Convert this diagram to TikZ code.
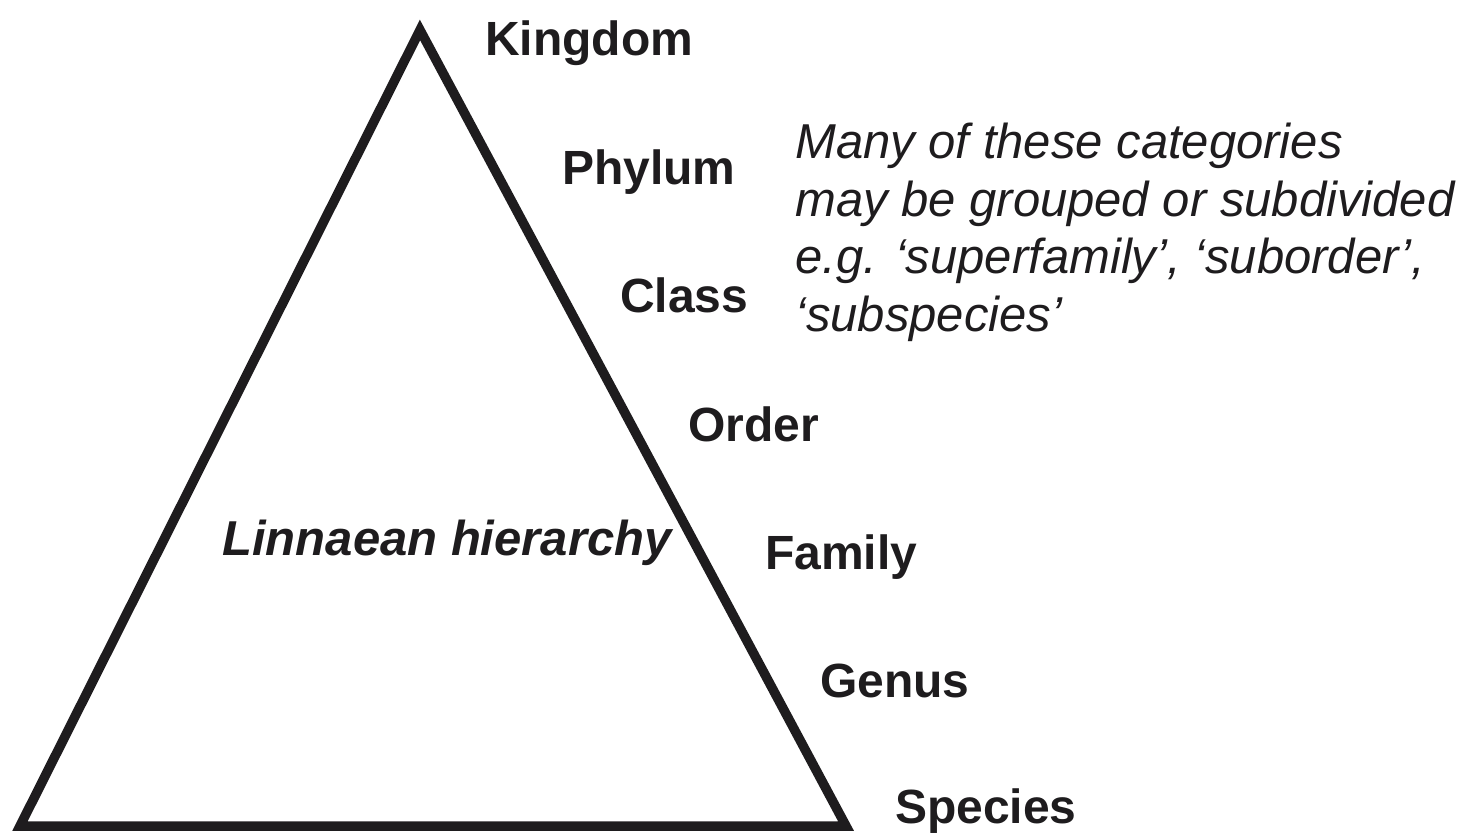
\documentclass[tikz,border=0pt]{standalone}
\usepackage{fontspec}
\setmainfont{Liberation Sans}
\usepackage{tikz}
\usetikzlibrary{positioning,calc}
\definecolor{inkcolor}{RGB}{30, 28, 30}
\tikzset{
ranklabel/.style={
  anchor=base west,
  inner sep=0pt,
  font=\fontsize{48}{57}\selectfont\bfseries,
  text=inkcolor
},
notetext/.style={
  anchor=north west,
  inner sep=0pt,
  align=left,
  font=\fontsize{49}{57.5}\selectfont\itshape,
  text=inkcolor
}
}

\begin{document}
\begin{tikzpicture}[
    x=1pt, y=-1pt,
    % Estilos
    pyramid/.style={draw=inkcolor, line width=9.5pt, line join=miter},
    titletext/.style={anchor=base, inner sep=0pt,
        font=\fontsize{49}{57}\selectfont\bfseries\itshape, text=inkcolor},
]
\useasboundingbox (0,0) rectangle (1469,833);

% ============================================================================
% PIRAMIDE
% ============================================================================
\coordinate (apex) at (420,30);
\coordinate (baseleft) at (20,826);
\coordinate (baseright) at (846,826);
\draw[pyramid] (apex) -- (baseleft) -- (baseright) -- cycle;

\node[titletext] (title) at (447,555) {Linnaean hierarchy};

% ============================================================================
% CATEGORIAS
% ============================================================================
\foreach \name/\x/\y in {Kingdom/485/55, Phylum/562/184, Class/620/312,
    Order/688/441, Family/765/569, Genus/820/697, Species/895/823}
    \node[ranklabel] (rank-\name) at (\x,\y) {\name};

% ============================================================================
% NOTA
% ============================================================================
\node[notetext] (note) at (795,123) {Many of these categories\\
    may be grouped or subdivided\\
    e.g. ‘superfamily’, ‘suborder’,\\
    ‘subspecies’};

\end{tikzpicture}
\end{document}
